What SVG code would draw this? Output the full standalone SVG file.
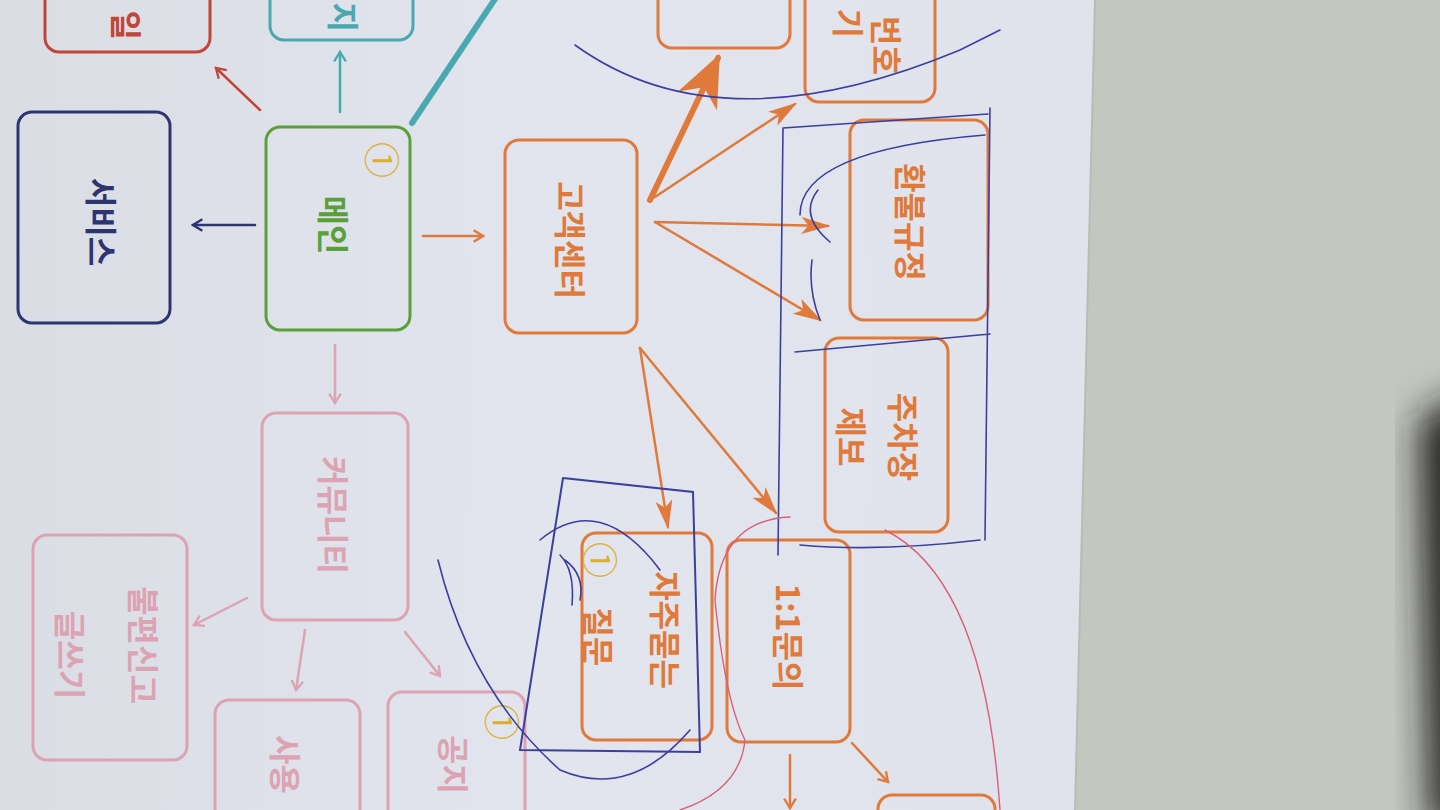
<svg xmlns="http://www.w3.org/2000/svg" width="1440" height="810" viewBox="0 0 1440 810">
<defs>
<style>
.box{fill:none;stroke-width:3}
.t{font-family:"Noto Sans CJK KR","Noto Sans",sans-serif;font-size:32px;font-weight:600;text-anchor:middle;dominant-baseline:central}
.c1{font-family:"Liberation Serif","Noto Sans CJK KR",serif;font-size:36px;fill:#d9b030;text-anchor:middle;dominant-baseline:central}
.navy{stroke:#2d3470}.green{stroke:#5aa03a}.orange{stroke:#e07a3a}.pink{stroke:#dca3b3}.teal{stroke:#4aa8b0}.red{stroke:#c0463a}
.ln{fill:none;stroke-width:2.5;stroke-linecap:round}
.thick{stroke-width:6}
.pen{fill:none;stroke:#3b3f9e;stroke-width:1.6;stroke-linecap:round}
.rpen{fill:none;stroke:#d8607a;stroke-width:1.4;stroke-linecap:round}
</style>
<linearGradient id="paper" x1="0" y1="0" x2="1" y2="0">
<stop offset="0" stop-color="#dadde4"/><stop offset="0.5" stop-color="#e2e5ed"/><stop offset="1" stop-color="#e0e3eb"/>
</linearGradient>
<filter id="blur" x="-50%" y="-50%" width="200%" height="200%"><feGaussianBlur stdDeviation="18"/></filter>
<marker id="chNavy" viewBox="0 0 12 12" refX="10" refY="6" markerWidth="14" markerHeight="14" markerUnits="userSpaceOnUse" orient="auto"><path d="M2,1 L10,6 L2,11" fill="none" stroke="#2d3470" stroke-width="2"/></marker>
<marker id="chRed" viewBox="0 0 12 12" refX="10" refY="6" markerWidth="14" markerHeight="14" markerUnits="userSpaceOnUse" orient="auto"><path d="M2,1 L10,6 L2,11" fill="none" stroke="#c0463a" stroke-width="2"/></marker>
<marker id="chTeal" viewBox="0 0 12 12" refX="10" refY="6" markerWidth="14" markerHeight="14" markerUnits="userSpaceOnUse" orient="auto"><path d="M2,1 L10,6 L2,11" fill="none" stroke="#4aa8b0" stroke-width="2"/></marker>
<marker id="chPink" viewBox="0 0 12 12" refX="10" refY="6" markerWidth="14" markerHeight="14" markerUnits="userSpaceOnUse" orient="auto"><path d="M2,1 L10,6 L2,11" fill="none" stroke="#dca3b3" stroke-width="2"/></marker>
<marker id="chOr" viewBox="0 0 12 12" refX="10" refY="6" markerWidth="14" markerHeight="14" markerUnits="userSpaceOnUse" orient="auto"><path d="M2,1 L10,6 L2,11" fill="none" stroke="#e07a3a" stroke-width="2"/></marker>
<marker id="fOr" viewBox="0 0 24 14" refX="22" refY="7" markerWidth="30" markerHeight="17" markerUnits="userSpaceOnUse" orient="auto"><path d="M0,0 L24,7 L0,14 L6,7 z" fill="#e07a3a"/></marker>
<marker id="fOrBig" viewBox="0 0 24 20" refX="22" refY="10" markerWidth="52" markerHeight="44" markerUnits="userSpaceOnUse" orient="auto"><path d="M0,0 L24,10 L0,20 L7,10 z" fill="#e07a3a"/></marker>
</defs>

<!-- background -->
<rect x="0" y="0" width="1440" height="810" fill="#c4c7c0"/>
<polygon points="1420,420 1470,390 1470,830 1430,830" fill="#1a1d1c" filter="url(#blur)"/>
<polygon points="0,0 1095,0 1075,810 0,810" fill="url(#paper)"/>
<line x1="1095" y1="0" x2="1075" y2="810" stroke="#b8bbb6" stroke-width="2"/>

<!-- connectors -->
<g id="connectors">
<line class="ln navy" x1="255" y1="225" x2="193" y2="225" marker-end="url(#chNavy)"/>
<line class="ln red" x1="260" y1="110" x2="216" y2="68" marker-end="url(#chRed)"/>
<line class="ln teal" x1="340" y1="112" x2="340" y2="52" marker-end="url(#chTeal)"/>
<line class="ln teal thick" x1="412" y1="123" x2="497" y2="-4"/>
<line class="ln orange" x1="423" y1="236" x2="483" y2="236" marker-end="url(#chOr)"/>
<line class="ln pink" x1="335" y1="345" x2="335" y2="403" marker-end="url(#chPink)"/>
<line class="ln pink" x1="247" y1="598" x2="194" y2="625" marker-end="url(#chPink)"/>
<line class="ln pink" x1="305" y1="630" x2="296" y2="690" marker-end="url(#chPink)"/>
<line class="ln pink" x1="405" y1="632" x2="440" y2="676" marker-end="url(#chPink)"/>
<line class="ln orange thick" x1="650" y1="200" x2="718" y2="58" marker-end="url(#fOrBig)"/>
<line class="ln orange" x1="655" y1="197" x2="795" y2="104" marker-end="url(#fOr)"/>
<line class="ln orange" x1="655" y1="222" x2="828" y2="226" marker-end="url(#fOr)"/>
<line class="ln orange" x1="655" y1="222" x2="820" y2="320" marker-end="url(#fOr)"/>
<line class="ln orange" x1="640" y1="348" x2="668" y2="527" marker-end="url(#fOr)"/>
<line class="ln orange" x1="640" y1="348" x2="776" y2="513" marker-end="url(#fOr)"/>
<line class="ln orange" x1="790" y1="755" x2="790" y2="808" marker-end="url(#chOr)"/>
<line class="ln orange" x1="852" y1="743" x2="888" y2="782" marker-end="url(#chOr)"/>
</g>

<!-- nodes -->
<g id="n-red"><rect class="box red" x="45" y="-60" width="165" height="112" rx="14"/>
<text class="t" fill="#c0463a" transform="translate(128,40) rotate(90)" style="text-anchor:end">일</text></g>
<g id="n-teal"><rect class="box teal" x="270" y="-60" width="143" height="100" rx="14"/>
<text class="t" fill="#4aa8b0" transform="translate(345,32) rotate(90)" style="text-anchor:end">지</text></g>
<g id="n-service"><rect class="box navy" x="18" y="112" width="152" height="211" rx="14"/>
<text class="t" fill="#2d3470" font-size="34" transform="translate(103,222) rotate(90)">서비스</text></g>
<g id="n-main"><rect class="box green" x="266" y="127" width="144" height="203" rx="14"/>
<text class="t" fill="#5aa03a" transform="translate(335,225) rotate(90)">메인</text>
<text class="c1" transform="translate(380,160) rotate(90)">①</text></g>
<g id="n-cs"><rect class="box orange" x="505" y="140" width="132" height="193" rx="14"/>
<text class="t" fill="#e07a3a" transform="translate(572,240) rotate(90)">고객센터</text></g>
<g id="n-top"><rect class="box orange" x="658" y="-60" width="132" height="108" rx="14"/></g>
<g id="n-pw"><rect class="box orange" x="805" y="-50" width="130" height="152" rx="14"/>
<text class="t" fill="#e07a3a" transform="translate(888,75) rotate(90)" style="text-anchor:end">번호</text>
<text class="t" fill="#e07a3a" transform="translate(850,38) rotate(90)" style="text-anchor:end">기</text></g>
<g id="n-refund"><rect class="box orange" x="850" y="120" width="138" height="200" rx="14"/>
<text class="t" fill="#e07a3a" transform="translate(912,222) rotate(90)">환불규정</text></g>
<g id="n-parking"><rect class="box orange" x="825" y="338" width="123" height="194" rx="14"/>
<text class="t" fill="#e07a3a" transform="translate(905,437) rotate(90)">주차장</text>
<text class="t" fill="#e07a3a" transform="translate(853,437) rotate(90)">제보</text></g>
<g id="n-qna"><rect class="box orange" x="727" y="540" width="123" height="202" rx="14"/>
<text class="t" fill="#e07a3a" transform="translate(790,637) rotate(90)">1:1문의</text></g>
<g id="n-faq"><rect class="box orange" x="582" y="533" width="130" height="207" rx="14"/>
<text class="t" fill="#e07a3a" transform="translate(667,630) rotate(90)">자주묻는</text>
<text class="t" fill="#e07a3a" transform="translate(600,637) rotate(90)">질문</text>
<text class="c1" transform="translate(598,560) rotate(90)">①</text></g>
<g id="n-bottom"><rect class="box orange" x="878" y="795" width="117" height="100" rx="14"/></g>
<g id="n-community"><rect class="box pink" x="262" y="413" width="146" height="207" rx="14"/>
<text class="t" fill="#dca3b3" transform="translate(335,515) rotate(90)">커뮤니티</text></g>
<g id="n-complaint"><rect class="box pink" x="33" y="535" width="154" height="225" rx="14"/>
<text class="t" fill="#dca3b3" transform="translate(145,645) rotate(90)">불편신고</text>
<text class="t" fill="#dca3b3" transform="translate(72,655) rotate(90)">글쓰기</text></g>
<g id="n-use"><rect class="box pink" x="215" y="700" width="145" height="140" rx="14"/>
<text class="t" fill="#dca3b3" transform="translate(287,735) rotate(90)" style="text-anchor:start">사용</text></g>
<g id="n-notice"><rect class="box pink" x="388" y="692" width="137" height="150" rx="14"/>
<text class="t" fill="#dca3b3" transform="translate(455,735) rotate(90)" style="text-anchor:start">공지</text>
<text class="c1" transform="translate(500,722) rotate(90)">①</text></g>

<!-- pen marks -->
<g id="pen">
<path class="pen" d="M575,45 Q720,150 960,50 L1000,30"/>
<path class="pen" d="M783,128 L988,114 M990,108 L985,540 M783,128 L778,555 M795,352 L990,334 M800,545 Q880,552 980,540"/>
<path class="pen" d="M800,215 Q800,150 985,135"/>
<path class="pen" d="M818,190 Q798,215 830,242 M812,260 Q808,290 820,320"/>
<path class="pen" d="M563,478 L693,492 L700,752 L520,750 L563,478" style="stroke-width:2"/>
<path class="pen" d="M438,560 Q470,690 560,770 Q630,800 690,730"/>
<path class="pen" d="M540,540 Q600,490 660,570"/>
<path class="pen" d="M560,555 Q575,570 572,605 M565,560 Q585,575 580,600"/>
<path class="rpen" d="M790,517 Q720,520 715,600 Q725,700 745,740 Q740,790 680,810"/>
<path class="rpen" d="M885,530 Q985,580 1000,810"/>
</g>
</svg>
